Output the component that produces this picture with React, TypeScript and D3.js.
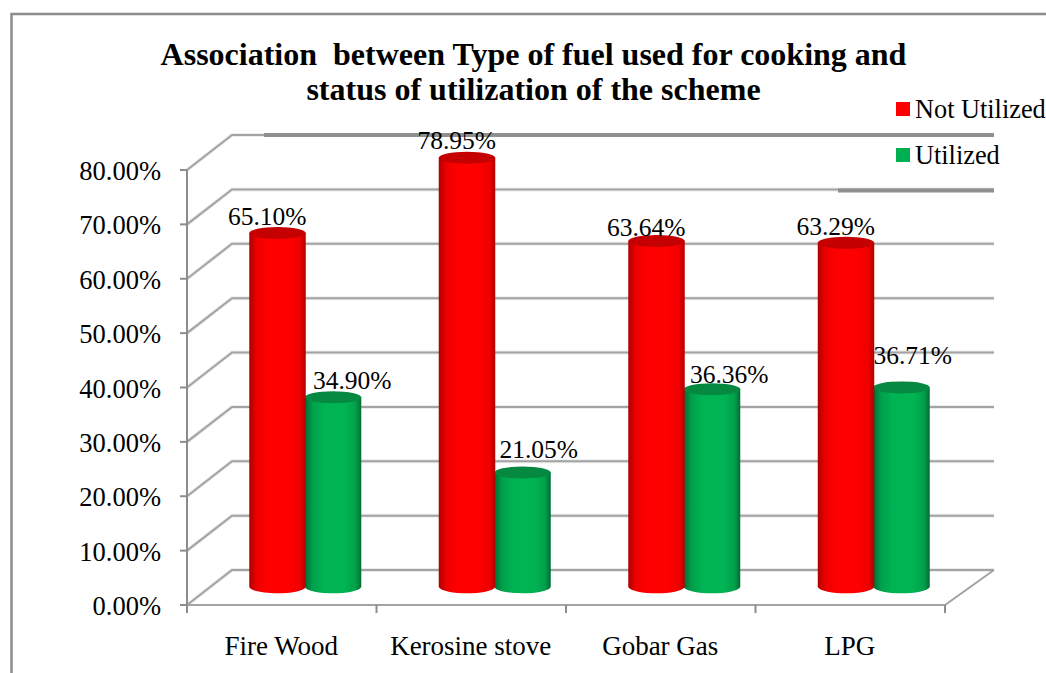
import React from "react";
import * as d3 from "d3";

const categories = ["Fire Wood", "Kerosine stove", "Gobar Gas", "LPG"];
const seriesNames = ["Not Utilized", "Utilized"];
const notUtilized = [65.1, 78.95, 63.64, 63.29];
const utilized = [34.9, 21.05, 36.36, 36.71];
const yTicks = [0, 10, 20, 30, 40, 50, 60, 70, 80];
const titleLines = [
  "Association  between Type of fuel used for cooking and",
  "status of utilization of the scheme",
];
// manual label nudges (dx, dy), as placed by hand in the original chart
const labelNudgeRed = [[-37, -8], [-37, -9], [-37, -5], [-37, -8]];
const labelNudgeGreen = [[21, -8], [18, -15], [19, -6], [13, -23]];

const W = 1046, H = 673;
const FONT = "'Liberation Serif', 'Times New Roman', serif";
const DEPTH_X = 45, DEPTH_Y = -35;
const GRID = "#a3a3a3";

const y = d3.scaleLinear().domain([0, 80]).range([605, 170]);
const x0 = d3.scaleBand().domain(categories).range([187, 945]);
const barW = 56.5;
const ry = 6;
const baseLift = 18;

function Cylinder({ cx, value, grad, top }: any) {
  const yBase = y(0) - baseLift;
  const yTop = y(value) - baseLift;
  const l = cx - barW / 2, r = cx + barW / 2;
  const path = d3.path();
  path.moveTo(l, yTop);
  path.lineTo(l, yBase);
  path.bezierCurveTo(l + 4, yBase + ry * 1.4, r - 4, yBase + ry * 1.4, r, yBase);
  path.lineTo(r, yTop);
  path.closePath();
  return (
    <g>
      <path d={path.toString()} fill={`url(#${grad})`} />
      <ellipse cx={cx} cy={yTop} rx={barW / 2} ry={ry} fill={top} />
    </g>
  );
}

export default function App() {
  const frontX = 187, backX = frontX + DEPTH_X, backEnd = 994;
  const stops = (id: string, edge: string, mid: string, bright: string) => (
    <linearGradient id={id} x1="0" x2="1" y1="0" y2="0">
      <stop offset="0" stopColor={edge} />
      <stop offset="0.14" stopColor={mid} />
      <stop offset="0.35" stopColor={bright} />
      <stop offset="0.7" stopColor={bright} />
      <stop offset="0.9" stopColor={mid} />
      <stop offset="1" stopColor={edge} />
    </linearGradient>
  );
  return (
    <svg
      width={W}
      height={H}
      viewBox={`0 0 ${W} ${H}`}
      style={{ position: "absolute", left: 0, top: 0, display: "block", background: "#fff" }}
      fontFamily={FONT}
      fill="#000"
    >
      <defs>
        {stops("red", "#b00000", "#ee0000", "#ff0000")}
        {stops("green", "#006b33", "#00a04a", "#00b454")}
      </defs>

      {/* frame */}
      <path d={`M11.5 673V14H${W}`} fill="none" stroke="#8c8c8c" strokeWidth={2.5} />

      {/* title */}
      {titleLines.map((t, i) => (
        <text key={i} x={533.5} y={65 + i * 35} textAnchor="middle" fontWeight="bold" fontSize={32} style={{ whiteSpace: "pre" }}>
          {t}
        </text>
      ))}

      {/* gridlines: side wall diagonal + back wall */}
      {yTicks.map((t) => {
        const fy = y(t), by = fy + DEPTH_Y;
        const d = `M${frontX} ${fy}L${backX} ${by}H${backEnd}`;
        return (
          <g key={t} fill="none">
            <path d={d} stroke="#ececec" strokeWidth={4} />
            <path d={d} stroke={GRID} strokeWidth={2} />
          </g>
        );
      })}
      {/* heavier strokes on the top gridlines */}
      <line x1={264} x2={backEnd} y1={y(80) + DEPTH_Y} y2={y(80) + DEPTH_Y} stroke="#8f8f8f" strokeWidth={4} />
      <line x1={838} x2={backEnd} y1={y(70) + DEPTH_Y + 1} y2={y(70) + DEPTH_Y + 1} stroke="#8f8f8f" strokeWidth={4} />

      {/* floor right edge and front axis */}
      <path d={`M${frontX} ${y(0)}H945L${backEnd} ${y(0) + DEPTH_Y}`} fill="none" stroke={GRID} strokeWidth={2} />
      <line x1={frontX} x2={frontX} y1={y(80)} y2={y(0)} stroke="#8c8c8c" strokeWidth={2} />
      {yTicks.map((t) => (
        <line key={t} x1={frontX - 7} x2={frontX} y1={y(t)} y2={y(t)} stroke="#8c8c8c" strokeWidth={2} />
      ))}
      {[...categories.map((c) => x0(c) as number), 945].map((px) => (
        <line key={px} x1={px} x2={px} y1={y(0)} y2={y(0) + 8} stroke="#8c8c8c" strokeWidth={2} />
      ))}

      {/* y labels */}
      {yTicks.map((t) => (
        <text key={t} x={161} y={y(t) + 10} textAnchor="end" fontSize={26.5}>
          {t.toFixed(2)}%
        </text>
      ))}

      {/* cylinders */}
      {categories.map((c, i) => {
        const center = (x0(c) as number) + x0.bandwidth() / 2 + DEPTH_X / 2;
        const rx = center - barW / 2 + 1.5, gx = center + barW / 2 + 0.5;
        return (
          <g key={c}>
            <Cylinder cx={gx} value={utilized[i]} grad="green" top="#05883f" />
            <Cylinder cx={rx} value={notUtilized[i]} grad="red" top="#c40000" />
          </g>
        );
      })}

      {/* data labels */}
      {categories.map((c, i) => {
        const center = (x0(c) as number) + x0.bandwidth() / 2 + DEPTH_X / 2;
        return (
          <g key={c} fontSize={25.5} textAnchor="middle">
            <text x={center + labelNudgeRed[i][0]} y={y(notUtilized[i]) - baseLift + labelNudgeRed[i][1]}>
              {notUtilized[i].toFixed(2)}%
            </text>
            <text x={center + labelNudgeGreen[i][0] + 27} y={y(utilized[i]) - baseLift + labelNudgeGreen[i][1]}>
              {utilized[i].toFixed(2)}%
            </text>
          </g>
        );
      })}

      {/* category labels */}
      {categories.map((c) => (
        <text key={c} x={(x0(c) as number) + x0.bandwidth() / 2 - 0.5} y={655} textAnchor="middle" fontSize={27}>
          {c}
        </text>
      ))}

      {/* legend */}
      {seriesNames.map((s, i) => (
        <g key={s}>
          <rect x={896} y={102 + i * 46} width={14} height={14} fill={i === 0 ? "#ff0000" : "#00b050"} />
          <text x={915} y={118 + i * 46} fontSize={26.3}>{s}</text>
        </g>
      ))}
    </svg>
  );
}
